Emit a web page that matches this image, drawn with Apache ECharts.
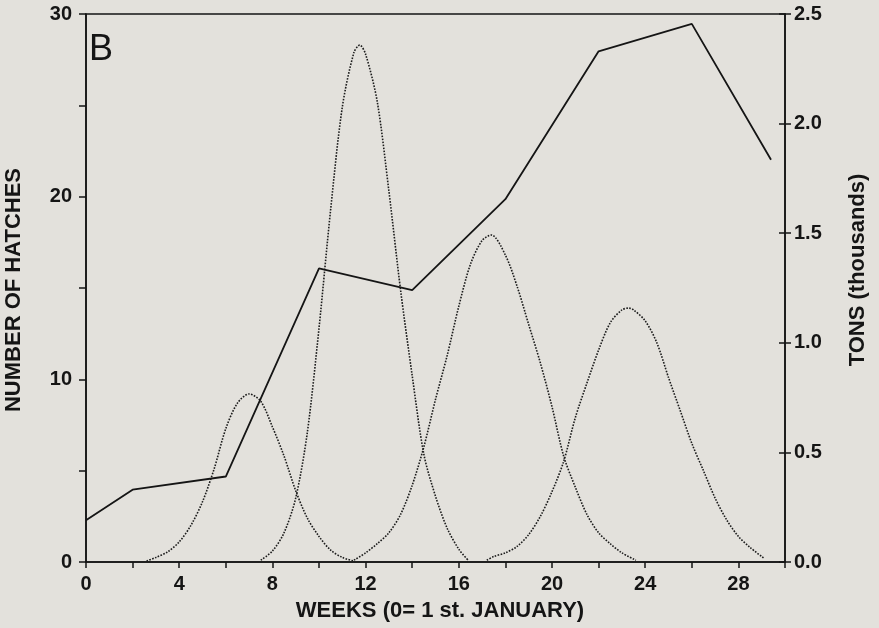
<!DOCTYPE html>
<html>
<head>
<meta charset="utf-8">
<script src="https://cdn.jsdelivr.net/npm/echarts@6/dist/echarts.min.js"></script>
<style>
html,body{margin:0;padding:0;background:#e3e1dc;}
#chart{width:879px;height:628px;}
</style>
</head>
<body>
<div id="chart"></div>
<script>
// ---- Data ----
const xTickLabels = [0, 4, 8, 12, 16, 20, 24, 28];
const leftTickLabels = [0, 10, 20, 30];
const rightTickLabels = ['0.0', '0.5', '1.0', '1.5', '2.0', '2.5'];

// Tons (thousands), solid line, right axis
const tonsWeeks  = [0, 2, 6, 10, 14, 18, 22, 26, 29.4];
const tonsValues = [0.19, 0.33, 0.39, 1.34, 1.24, 1.655, 2.33, 2.455, 1.835];

// Number of hatches, dotted curves, left axis
const hatch1Weeks  = [2.6, 3, 3.5, 4, 4.5, 5, 5.5, 6, 6.5, 7, 7.5, 8, 8.5, 9, 9.5, 10, 10.5, 11, 11.5];
const hatch1Values = [0.05, 0.25, 0.55, 1.1, 2.0, 3.3, 5.1, 7.3, 8.7, 9.2, 8.8, 7.4, 5.8, 3.9, 2.4, 1.4, 0.65, 0.25, 0.05];

const hatch2Weeks  = [7.5, 8, 8.5, 9, 9.5, 10, 10.5, 11, 11.5, 11.75, 12, 12.5, 13, 13.5, 14, 14.5, 15, 15.5, 16, 16.4];
const hatch2Values = [0.1, 0.6, 1.6, 3.5, 7.1, 12.8, 19.3, 24.9, 27.9, 28.3, 27.8, 25.2, 20.3, 14.9, 10.2, 5.9, 3.6, 1.85, 0.7, 0.1];

const hatch3Weeks  = [11.5, 12, 12.5, 13, 13.5, 14, 14.5, 15, 15.5, 16, 16.5, 17, 17.4, 18, 18.5, 19, 19.5, 20, 20.5, 21, 21.5, 22, 22.5, 23, 23.6];
const hatch3Values = [0.1, 0.5, 1.0, 1.6, 2.6, 4.2, 6.3, 8.9, 11.3, 14.0, 16.3, 17.6, 17.9, 16.8, 15.1, 13.0, 10.9, 8.5, 5.8, 4.1, 2.6, 1.6, 1.0, 0.5, 0.1];

const hatch4Weeks  = [17.2, 17.5, 18, 18.5, 19, 19.5, 20, 20.5, 21, 21.5, 22, 22.5, 23, 23.3, 23.5, 24, 24.5, 25, 25.5, 26, 26.5, 27, 27.5, 28, 28.5, 29.1];
const hatch4Values = [0.1, 0.3, 0.5, 0.85, 1.5, 2.5, 3.85, 5.5, 7.9, 9.8, 11.6, 13.1, 13.8, 13.9, 13.8, 13.2, 12.0, 10.1, 8.3, 6.5, 5.0, 3.5, 2.3, 1.4, 0.8, 0.2];

const panelLabel = 'B';
const xTitle = 'WEEKS (0= 1 st. JANUARY)';
const leftTitle = 'NUMBER OF HATCHES';
const rightTitle = 'TONS (thousands)';

// ---- Chart ----
const FONT = '"Liberation Sans", Arial, Helvetica, sans-serif';
const INK = '#151515';
const pairs = (xs, ys) => xs.map((x, i) => [x, ys[i]]);

const chart = echarts.init(document.getElementById('chart'), null, {renderer: 'canvas'});

function hatchSeries(name, xs, ys) {
  return {
    name: name, type: 'line', xAxisIndex: 0, yAxisIndex: 0,
    data: pairs(xs, ys), smooth: 0.3, symbol: 'none',
    lineStyle: {color: '#1c1c1c', width: 1.6, type: [1.6, 1.4]},
    z: 3
  };
}

const option = {
  backgroundColor: '#e3e1dc',
  animation: false,
  grid: {left: 86, right: 94, top: 14, bottom: 66, show: true, borderColor: INK, borderWidth: 1.5, backgroundColor: 'transparent'},
  xAxis: {
    type: 'value', min: 0, max: 30, interval: 2,
    axisLine: {show: true, onZero: false, lineStyle: {color: INK, width: 1.6}},
    axisTick: {show: true, length: 6, lineStyle: {color: INK, width: 1.5}},
    axisLabel: {
      margin: 12, color: INK, fontFamily: FONT, fontWeight: 'bold', fontSize: 20,
      formatter: v => xTickLabels.indexOf(v) >= 0 ? String(v) : ''
    },
    splitLine: {show: false}
  },
  yAxis: [
    {
      type: 'value', min: 0, max: 30, interval: 5, position: 'left',
      axisLine: {show: true, lineStyle: {color: INK, width: 1.6}},
      axisTick: {show: true, length: 7, lineStyle: {color: INK, width: 1.5}},
      axisLabel: {
        margin: 14, color: INK, fontFamily: FONT, fontWeight: 'bold', fontSize: 20,
        formatter: v => leftTickLabels.indexOf(v) >= 0 ? String(v) : ''
      },
      splitLine: {show: false}
    },
    {
      type: 'value', min: 0, max: 2.5, interval: 0.5, position: 'right',
      axisLine: {show: true, lineStyle: {color: INK, width: 1.6}},
      axisTick: {show: true, length: 6, lineStyle: {color: INK, width: 1.5}},
      axisLabel: {
        margin: 9, color: INK, fontFamily: FONT, fontWeight: 'bold', fontSize: 20,
        formatter: v => rightTickLabels[Math.round(v / 0.5)]
      },
      splitLine: {show: false}
    },
    {
      type: 'value', min: 0, max: 2.5, interval: 0.5, position: 'right',
      axisLine: {show: false},
      axisTick: {show: true, inside: true, length: 6, lineStyle: {color: INK, width: 1.5}},
      axisLabel: {show: false},
      splitLine: {show: false}
    }
  ],
  graphic: [
    {type: 'text', x: 89, y: 50, style: {text: panelLabel, font: 'normal 36px ' + FONT, fill: INK, textAlign: 'left', textVerticalAlign: 'middle'}},
    {type: 'text', x: 440, y: 611, style: {text: xTitle, font: 'bold 22px ' + FONT, fill: INK, textAlign: 'center', textVerticalAlign: 'middle'}},
    {type: 'text', x: 14, y: 290, rotation: Math.PI / 2, style: {text: leftTitle, font: 'bold 22px ' + FONT, fill: INK, textAlign: 'center', textVerticalAlign: 'middle'}},
    {type: 'text', x: 858, y: 270, rotation: Math.PI / 2, style: {text: rightTitle, font: 'bold 22px ' + FONT, fill: INK, textAlign: 'center', textVerticalAlign: 'middle'}}
  ],
  series: [
    hatchSeries('hatch1', hatch1Weeks, hatch1Values),
    hatchSeries('hatch2', hatch2Weeks, hatch2Values),
    hatchSeries('hatch3', hatch3Weeks, hatch3Values),
    hatchSeries('hatch4', hatch4Weeks, hatch4Values),
    {
      name: 'tons', type: 'line', xAxisIndex: 0, yAxisIndex: 1,
      data: pairs(tonsWeeks, tonsValues), symbol: 'none', smooth: false,
      lineStyle: {color: INK, width: 1.8}, z: 4
    }
  ]
};
chart.setOption(option);
</script>
</body>
</html>
